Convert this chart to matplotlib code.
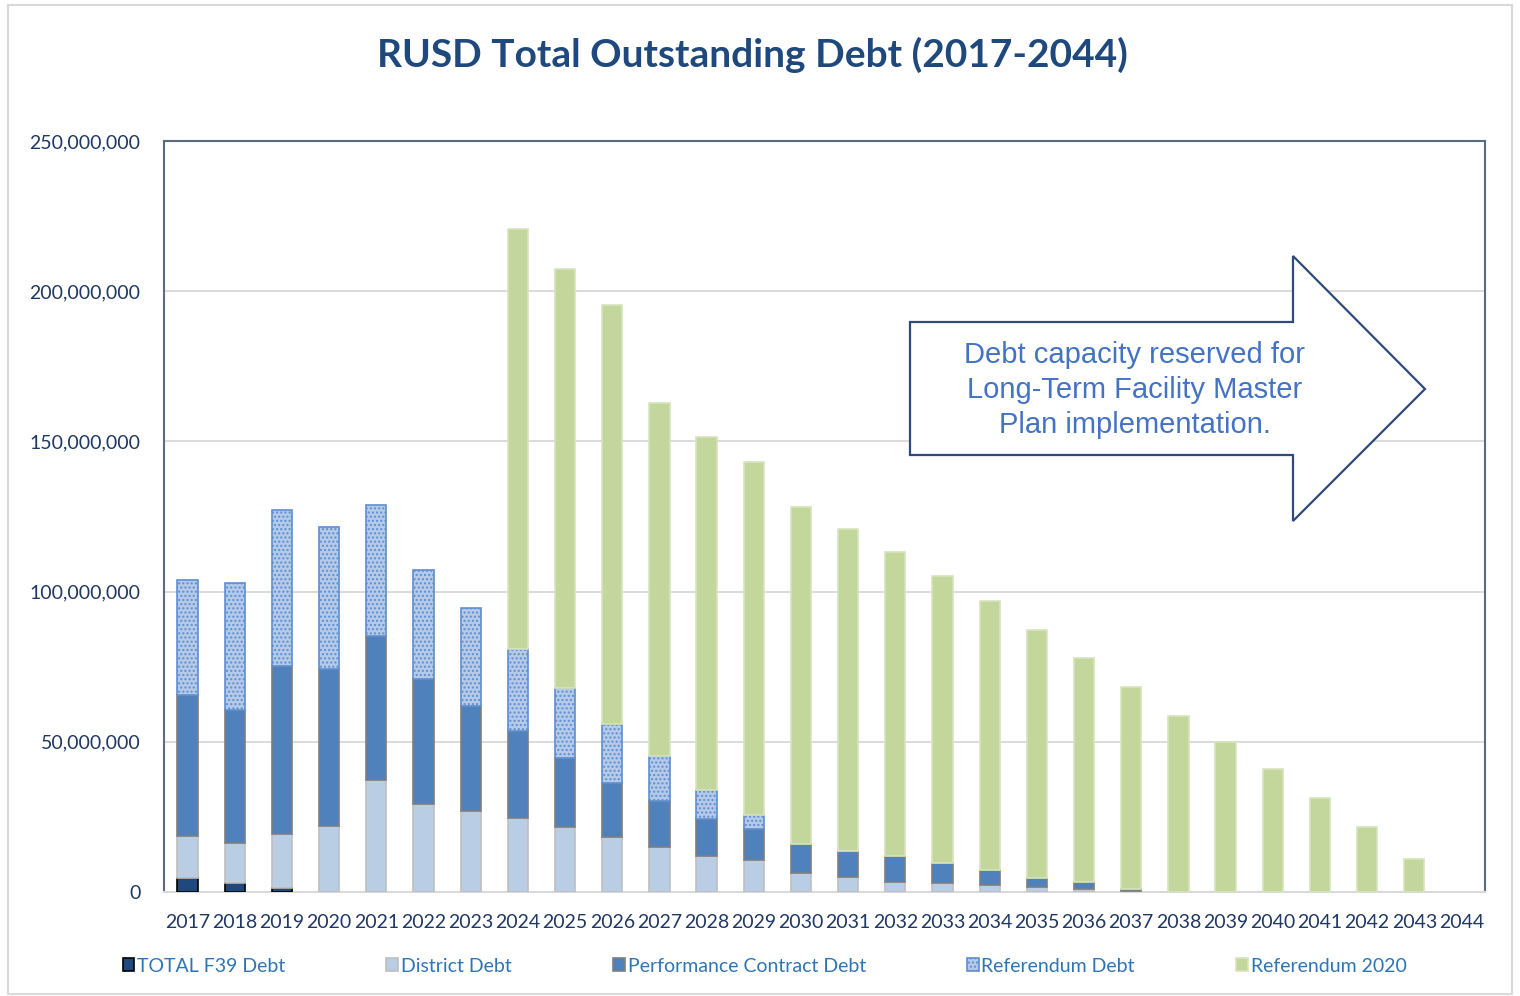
import numpy as np
import matplotlib
matplotlib.use("Agg")
import matplotlib.pyplot as plt
from matplotlib.patches import Polygon, Patch, Rectangle
from matplotlib.ticker import FuncFormatter

years = [str(y) for y in range(2017, 2045)]
# values in millions of dollars, stacked bottom -> top
f39 = [4.7, 3.1, 1.2] + [0.0] * 25
district = [13.9, 13.1, 18.1, 22.0, 37.3, 29.3, 27.0, 24.5, 21.5, 18.4, 14.9, 12.0,
            10.7, 6.2, 4.9, 3.4, 3.1, 2.3, 1.8, 0.9, 0.2] + [0.0] * 7
perf = [47.0, 44.4, 56.0, 52.1, 47.9, 41.6, 35.0, 29.1, 23.0, 18.0, 15.4, 12.2,
        10.4, 9.8, 8.9, 8.6, 6.4, 5.0, 3.0, 2.3, 0.9] + [0.0] * 7
referendum = [38.3, 42.2, 51.9, 47.3, 43.6, 36.3, 32.5, 27.3, 23.5, 19.5, 15.0, 9.9,
              4.5] + [0.0] * 15
ref2020 = [0.0] * 7 + [139.8, 139.4, 139.5, 117.5, 117.4, 117.6, 112.2, 107.1, 101.2,
                       95.7, 89.6, 82.4, 74.7, 67.2, 58.6, 49.9, 41.0, 31.3, 21.5,
                       11.0, 0.0]

series = [
    ("TOTAL F39 Debt", f39, "#1F497D", "#000000", None),
    ("District Debt", district, "#B9CDE5", "#BFBFBF", None),
    ("Performance Contract Debt", perf, "#4F81BD", "#7F7F7F", None),
    ("Referendum Debt", referendum, "#B4CAE8", "#5F8FD0", "...."),
    ("Referendum 2020", ref2020, "#C3D69B", "#D7E4BD", None),
]

plt.rcParams["font.family"] = ["Lato", "DejaVu Sans"]
plt.rcParams["hatch.linewidth"] = 1.0

fig = plt.figure(figsize=(15.2, 9.96), dpi=100)
fig.add_artist(Rectangle((0.005, 0.002), 0.99, 0.993, transform=fig.transFigure,
                         fill=False, ec="#D9D9D9", lw=1.5))
ax = fig.add_axes([0.1079, 0.1044, 0.8691, 0.754])

x = np.arange(len(years))
bottom = np.zeros(len(years))
for name, vals, fc, ec, hatch in series:
    v = np.array(vals) * 1e6
    m = v > 0
    ax.bar(x[m], v[m], 0.43, bottom=bottom[m], color=fc, edgecolor=ec, lw=1.2,
           hatch=hatch, label=name, zorder=3)
    bottom += v

ax.set_xlim(-0.5, len(years) - 0.5)
ax.set_ylim(0, 250e6)
ax.set_yticks(np.arange(0, 250e6 + 1, 50e6))
ax.yaxis.set_major_formatter(FuncFormatter(lambda v, p: f"{v:,.0f}"))
ax.set_xticks(x)
ax.set_xticklabels(years)
ax.tick_params(axis="both", length=0, labelsize=14, colors="#1F3864")
ax.tick_params(axis="y", pad=17)
ax.tick_params(axis="x", pad=16)
ax.grid(axis="y", color="#D9D9D9", lw=1.3, zorder=0)
for s in ["left", "right", "top"]:
    ax.spines[s].set_color("#5B6B80")
    ax.spines[s].set_linewidth(1.5)
ax.spines["bottom"].set_color("#D9D9D9")
ax.spines["bottom"].set_linewidth(1.5)

fig.text(0.495, 0.945, "RUSD Total Outstanding Debt (2017-2044)", ha="center",
         va="center", fontsize=28, fontweight="bold", color="#1F497D")

# block arrow callout (figure pixel coords)
W, H = 1520, 996
pts = [(910, 322), (1293, 322), (1293, 256), (1425, 389), (1293, 521),
       (1293, 455), (910, 455)]
fig.add_artist(Polygon([(px / W, 1 - py / H) for px, py in pts], closed=True,
                       transform=fig.transFigure, fc="white", ec="#2F4A7A", lw=1.6,
                       zorder=5))
fig.text(1135 / W, 1 - 390 / H,
         "Debt capacity reserved for\nLong-Term Facility Master\nPlan implementation.",
         ha="center", va="center", fontsize=21, color="#4472C4",
         family=["Liberation Sans", "DejaVu Sans"], linespacing=1.3, zorder=6)

handles = [Patch(fc=fc, ec=ec, hatch=h, lw=1.2) for _, _, fc, ec, h in series]
leg = fig.legend(handles, [s[0] for s in series], loc="center left",
                 bbox_to_anchor=(0.0755, 0.0301), ncol=5, frameon=False, fontsize=14,
                 handlelength=0.6, handleheight=0.6, handletextpad=0.15,
                 columnspacing=5.2, borderaxespad=0)
for t in leg.get_texts():
    t.set_color("#2E75B6")

fig.savefig("out.png", dpi=100)
